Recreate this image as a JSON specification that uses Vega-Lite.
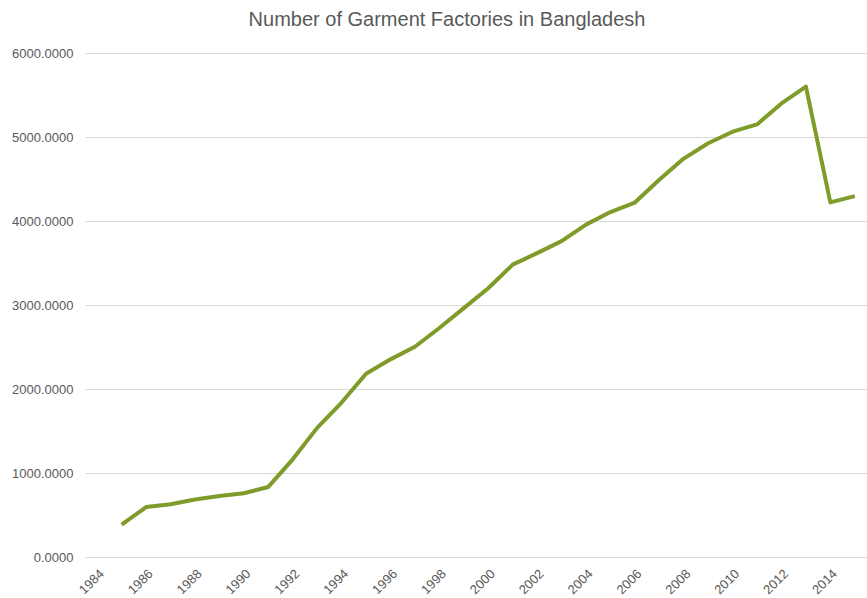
{
  "$schema": "https://vega.github.io/schema/vega-lite/v6.json",
  "width": 782,
  "height": 504,
  "autosize": "none",
  "padding": {"left": 85, "top": 53, "right": 0, "bottom": 41},
  "background": "white",
  "title": {
    "text": "Number of Garment Factories in Bangladesh",
    "font": "Liberation Sans, Arial, sans-serif",
    "fontSize": 20,
    "fontWeight": "normal",
    "color": "#595959",
    "anchor": "middle",
    "dx": -29,
    "offset": 17
  },
  "config": {
    "view": {"stroke": null},
    "axis": {
      "labelFont": "Liberation Sans, Arial, sans-serif",
      "labelFontSize": 13,
      "labelColor": "#595959",
      "domain": false,
      "ticks": false,
      "title": null
    }
  },
  "data": {
    "values": [
      {"year": 1985, "factories": 384},
      {"year": 1986, "factories": 594},
      {"year": 1987, "factories": 629},
      {"year": 1988, "factories": 685},
      {"year": 1989, "factories": 725},
      {"year": 1990, "factories": 759},
      {"year": 1991, "factories": 834},
      {"year": 1992, "factories": 1163},
      {"year": 1993, "factories": 1537},
      {"year": 1994, "factories": 1839},
      {"year": 1995, "factories": 2182},
      {"year": 1996, "factories": 2353},
      {"year": 1997, "factories": 2503},
      {"year": 1998, "factories": 2726},
      {"year": 1999, "factories": 2963},
      {"year": 2000, "factories": 3200},
      {"year": 2001, "factories": 3480},
      {"year": 2002, "factories": 3618},
      {"year": 2003, "factories": 3760},
      {"year": 2004, "factories": 3957},
      {"year": 2005, "factories": 4107},
      {"year": 2006, "factories": 4220},
      {"year": 2007, "factories": 4490},
      {"year": 2008, "factories": 4743},
      {"year": 2009, "factories": 4925},
      {"year": 2010, "factories": 5063},
      {"year": 2011, "factories": 5150},
      {"year": 2012, "factories": 5400},
      {"year": 2013, "factories": 5600},
      {"year": 2014, "factories": 4222},
      {"year": 2015, "factories": 4296}
    ]
  },
  "mark": {"type": "line", "color": "#7f9c2a", "strokeWidth": 4, "strokeJoin": "round", "clip": false},
  "encoding": {
    "x": {
      "field": "year",
      "type": "quantitative",
      "scale": {"domain": [1983.5, 2015.5], "nice": false, "zero": false},
      "axis": {
        "values": [1984, 1986, 1988, 1990, 1992, 1994, 1996, 1998, 2000, 2002, 2004, 2006, 2008, 2010, 2012, 2014],
        "format": "d",
        "labelAngle": -45,
        "labelAlign": "right",
        "labelBaseline": "top",
        "labelPadding": 10,
        "grid": false,
        "labelOverlap": false
      }
    },
    "y": {
      "field": "factories",
      "type": "quantitative",
      "scale": {"domain": [0, 6000], "nice": false},
      "axis": {
        "values": [0, 1000, 2000, 3000, 4000, 5000, 6000],
        "format": ".4f",
        "grid": true,
        "gridColor": "#d9d9d9",
        "gridWidth": 1,
        "labelPadding": 12
      }
    }
  }
}
